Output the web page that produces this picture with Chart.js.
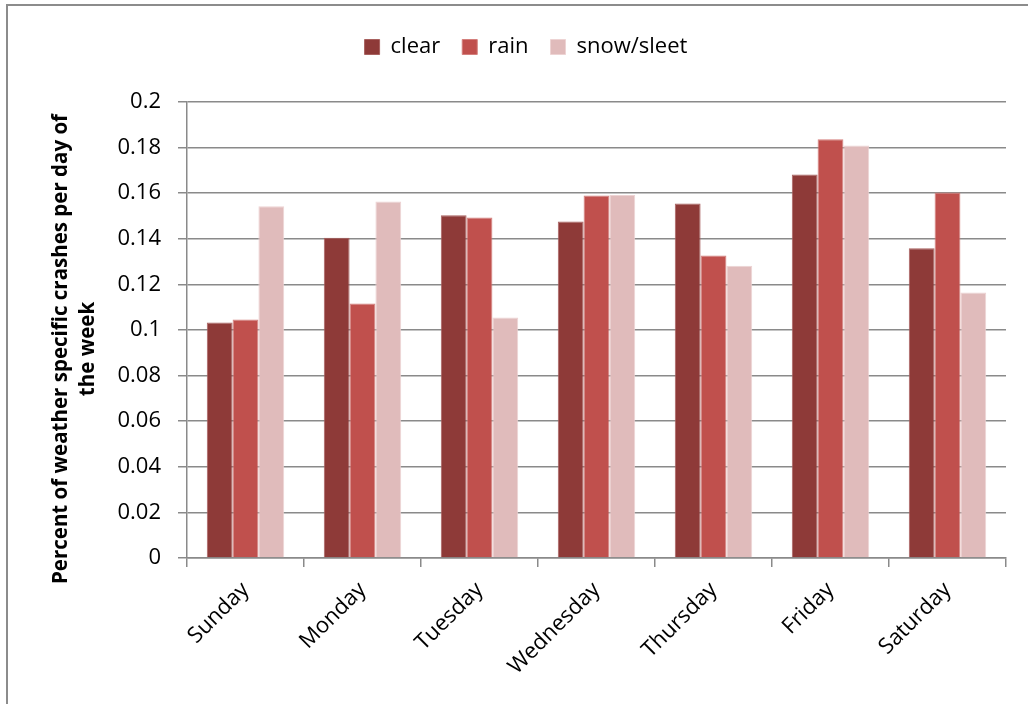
<!DOCTYPE html>
<html>
<head>
<meta charset="utf-8">
<script src="https://cdn.jsdelivr.net/npm/chart.js@4"></script>
<style>
  html, body { margin: 0; padding: 0; background: #fff; overflow: hidden; }
  #wrap { position: relative; width: 1028px; height: 704px; }
  #frame { position: absolute; left: 6px; top: 4px; width: 1100px; height: 800px; border: 2px solid #8c8c8c; pointer-events: none; }
  canvas { position: absolute; left: 0; top: 0; }
</style>
</head>
<body>
<div id="wrap">
  <canvas id="crashChart" width="1028" height="704"></canvas>
  <div id="frame"></div>
</div>
<script>
// 曜日ごとの天候別事故割合
const days = ["Sunday", "Monday", "Tuesday", "Wednesday", "Thursday", "Friday", "Saturday"];
const clearVals = [0.1033, 0.1405, 0.1503, 0.1476, 0.1555, 0.1682, 0.1359];
const rainVals  = [0.1046, 0.1116, 0.1493, 0.1590, 0.1327, 0.1837, 0.1603];
const snowVals  = [0.1543, 0.1564, 0.1055, 0.1592, 0.1282, 0.1809, 0.1165];
const yTicks = [0, 0.02, 0.04, 0.06, 0.08, 0.1, 0.12, 0.14, 0.16, 0.18, 0.2];

const fontFamily = "'Open Sans', 'Liberation Sans', sans-serif";
const gridColor = "#8a8a8a";

// 凡例の位置と縦軸タイトルの位置を微調整する
const layoutTweaks = {
    id: "layoutTweaks",
    beforeInit(chart) {
        const origFit = chart.legend.fit;
        chart.legend.fit = function() {
            origFit.bind(chart.legend)();
            this.height += 34; // 凡例の下の余白
        };
    },
    afterLayout(chart) {
        // 凡例を少し右へ
        chart.legend.left += 23;
        chart.legend.right += 23;
        // 縦軸タイトルを少し下へ
        const y = chart.scales.y;
        if (!y._titleShifted) {
            const origDrawTitle = y.drawTitle.bind(y);
            y.drawTitle = function() {
                const c = this.ctx;
                c.save();
                c.translate(0, 19);
                origDrawTitle();
                c.restore();
            };
            y._titleShifted = true;
        }
    }
};

const ctx = document.getElementById("crashChart").getContext("2d");
const chart = new Chart(ctx, {
    type: "bar",
    data: {
        labels: days,
        datasets: [{
            label: "clear",
            data: clearVals,
            backgroundColor: "#8E3A38",
            borderColor: "#A8615F",
            borderWidth: 1
        }, {
            label: "rain",
            data: rainVals,
            backgroundColor: "#C0504D",
            borderColor: "#D47F7C",
            borderWidth: 1
        }, {
            label: "snow/sleet",
            data: snowVals,
            backgroundColor: "#E0BBBB",
            borderColor: "#EDD3D3",
            borderWidth: 1
        }]
    },
    plugins: [layoutTweaks],
    options: {
        responsive: false,
        animation: false,
        layout: { padding: { left: 0, right: 22, top: 14, bottom: 0 } },
        datasets: {
            bar: { categoryPercentage: 0.662, barPercentage: 1.0 }
        },
        plugins: {
            legend: {
                position: "top",
                labels: {
                    boxWidth: 15,
                    boxHeight: 15,
                    padding: 22,
                    color: "#000",
                    font: { family: fontFamily, size: 22 }
                }
            },
            tooltip: { enabled: false }
        },
        scales: {
            x: {
                grid: {
                    drawOnChartArea: false,
                    drawTicks: true,
                    tickLength: 9,
                    color: gridColor,
                    lineWidth: 1.5
                },
                border: { color: gridColor, width: 1.5 },
                ticks: {
                    color: "#000",
                    minRotation: 45,
                    maxRotation: 45,
                    padding: 10,
                    font: { family: fontFamily, size: 22 }
                },
                afterFit: function(scale) { scale.height = 146; }
            },
            y: {
                min: 0,
                max: 0.2,
                afterBuildTicks: function(scale) {
                    scale.ticks = yTicks.map(v => ({ value: v }));
                },
                grid: {
                    color: gridColor,
                    lineWidth: 1.5,
                    tickLength: 9
                },
                border: { color: gridColor, width: 1.5 },
                ticks: {
                    color: "#000",
                    padding: 17,
                    font: { family: fontFamily, size: 22 },
                    callback: function(value) { return String(Number(value.toFixed(2))); }
                },
                title: {
                    display: true,
                    text: ["Percent of weather specific crashes per day of", "the week"],
                    color: "#000",
                    padding: { top: 48, bottom: 0 },
                    font: { family: fontFamily, size: 20.5, weight: "bold", lineHeight: 1.3 }
                },
                afterFit: function(scale) { scale.width = 187; }
            }
        }
    }
});
</script>
</body>
</html>
